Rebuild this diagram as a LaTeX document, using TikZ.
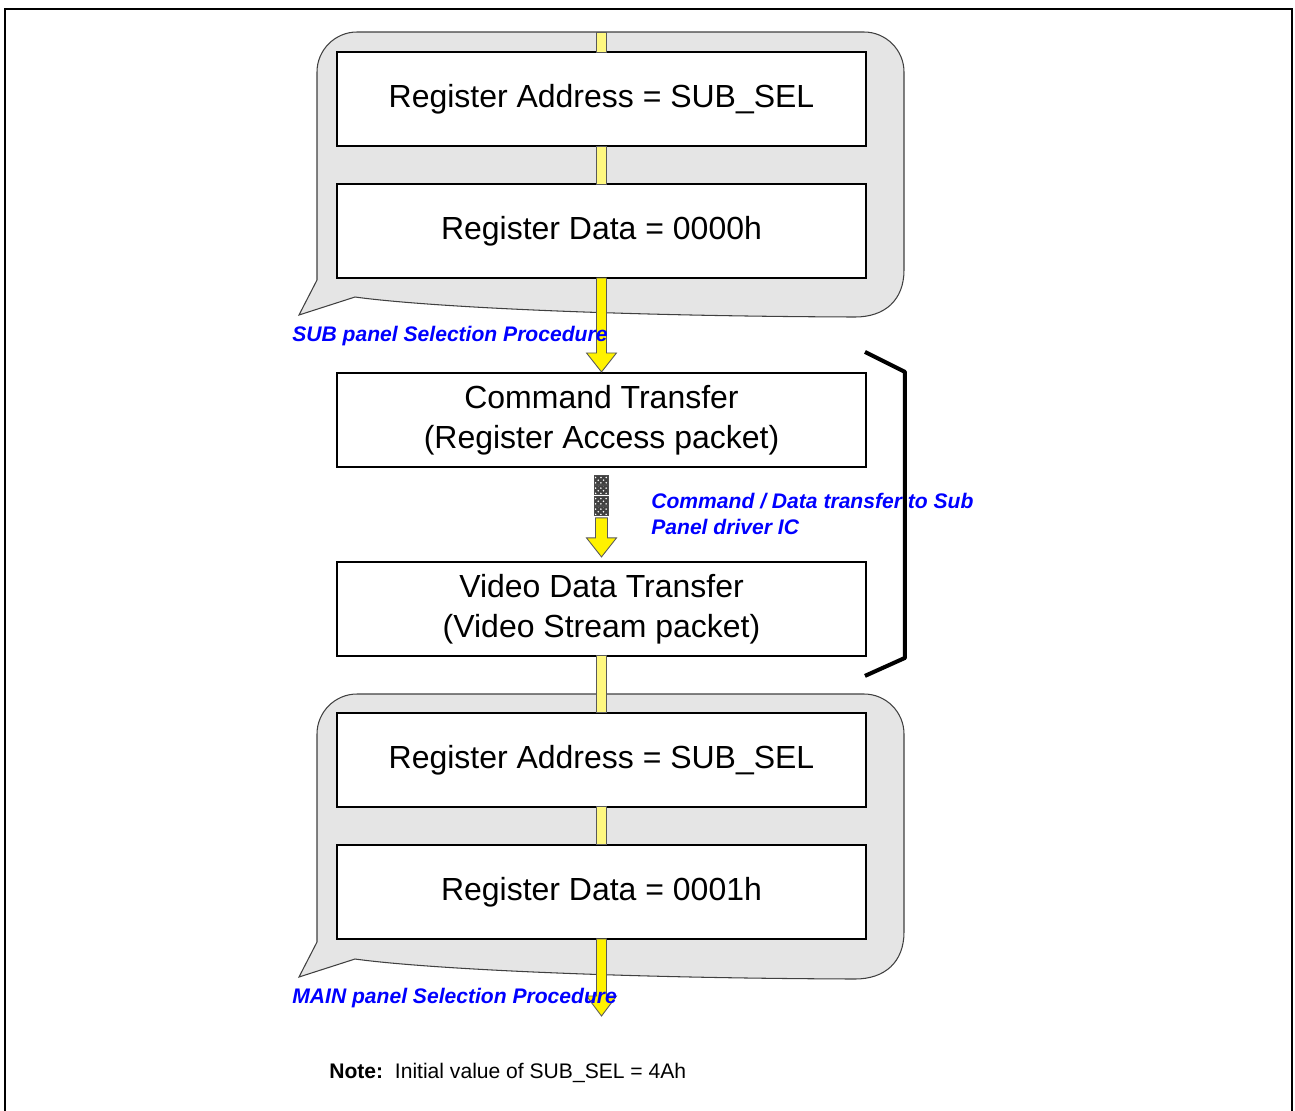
\documentclass[tikz,border=0pt]{standalone}
\usepackage{fontspec}
\setmainfont{Liberation Sans}
\usetikzlibrary{positioning, calc, patterns}

\begin{document}
\begin{tikzpicture}[x=0.02cm, y=-0.02cm,
    box/.style={draw, line width=1.1pt, fill=white, minimum width=10.58cm, minimum height=1.88cm,
                inner sep=0pt, outer sep=0pt, align=center, font=\fontsize{18.2}{22.7}\selectfont},
    callout/.style={draw=black!75, fill=black!10, line width=0.6pt},
    proclabel/.style={text=blue, font=\fontsize{12}{14.7}\selectfont\bfseries\itshape,
                      inner sep=0pt, anchor=west, align=left},
    ylink/.style={draw=black!65, fill=yellow!50, line width=0.5pt},
    yarr/.style={draw=black!65, fill=yellow, line width=0.5pt, line join=miter},
    bracket/.style={line width=2.3pt, line join=round}]
  \useasboundingbox (0,0) rectangle (1295,1110);
  \draw[line width=1.1pt] (5,1115) -- (5,9) -- (1292,9) -- (1292,1115);

  % the two selection callouts
  \foreach \oy in {0,662} {
    \draw[callout] (299,315+\oy) -- (317,280+\oy) -- (317,72+\oy)
      .. controls (317,50+\oy) and (335,32+\oy) .. (357,32+\oy) -- (864,32+\oy)
      .. controls (886,32+\oy) and (904,50+\oy) .. (904,72+\oy) -- (904,270+\oy)
      .. controls (904,300+\oy) and (885,317+\oy) .. (855,317+\oy)
      .. controls (600,316+\oy) and (420,306+\oy) .. (355,297+\oy) -- cycle;
  }
  \coordinate (subtop) at (601.5,32);
  \coordinate (maintop) at (601.5,694);
  \coordinate (mainend) at (601.5,1016);

  \node[box] (ra1) at (601.5,99) {Register Address = SUB\_SEL};
  \node[box, below=0.76cm of ra1] (rd1) {Register Data = 0000h};
  \node[box, below=1.9cm of rd1] (cmd) {Command Transfer\\(Register Access packet)};
  \node[box, below=1.9cm of cmd] (vid) {Video Data Transfer\\(Video Stream packet)};
  \node[box, below=1.14cm of vid] (ra2) {Register Address = SUB\_SEL};
  \node[box, below=0.76cm of ra2] (rd2) {Register Data = 0001h};

  % pale links inside the callouts
  \draw[ylink] ($(subtop)+(-5,0)$) rectangle ($(ra1.north)+(5,0)$);
  \draw[ylink] ($(ra1.south)+(-5,0)$) rectangle ($(rd1.north)+(5,0)$);
  \draw[ylink] ($(vid.south)+(-5,0)$) rectangle ($(ra2.north)+(5,0)$);
  \draw[ylink] ($(ra2.south)+(-5,0)$) rectangle ($(rd2.north)+(5,0)$);

  % block arrows
  \draw[yarr] ($(rd1.south)+(-5,0)$) -- ($(cmd.north)+(-5,-20)$) -- ($(cmd.north)+(-15,-20)$)
    -- ($(cmd.north)+(0,-1)$) -- ($(cmd.north)+(15,-20)$) -- ($(cmd.north)+(5,-20)$)
    -- ($(rd1.south)+(5,0)$) -- cycle;
  \draw[yarr] ($(rd2.south)+(-5,0)$) -- ($(mainend)+(-5,-20)$) -- ($(mainend)+(-15,-20)$)
    -- (mainend) -- ($(mainend)+(15,-20)$) -- ($(mainend)+(5,-20)$)
    -- ($(rd2.south)+(5,0)$) -- cycle;

  % dotted shaft and hollow arrow
  \foreach \k in {0,...,3}
    \draw[black!70, line width=0.4pt, preaction={fill=black!75},
          pattern=crosshatch dots, pattern color=white]
      ($(cmd.south)+(-7,{8+10.5*\k})$) rectangle ++(14,9);
  \draw[yarr] ($(vid.north)+(-6,-44)$) -- ($(vid.north)+(-6,-24)$) -- ($(vid.north)+(-15,-24)$)
    -- ($(vid.north)+(0,-5)$) -- ($(vid.north)+(15,-24)$) -- ($(vid.north)+(6,-24)$)
    -- ($(vid.north)+(6,-44)$) -- cycle;

  \draw[bracket] ($(cmd.north east)+(-1,-21)$) -- ($(cmd.north east)+(39,-1)$)
    -- ($(vid.south east)+(39,2)$) -- ($(vid.south east)+(-1,20)$);

  \node[proclabel] (sublbl) at (292,336) {SUB panel Selection Procedure};
  \node[proclabel] (cmdlbl) at (651,514) {Command / Data transfer to Sub\\Panel driver IC};
  \node[proclabel] (mainlbl) at (292,998) {MAIN panel Selection Procedure};
  \node[anchor=west, inner sep=0pt, font=\fontsize{12}{14}\selectfont] (note) at (329,1073)
    {\textbf{Note:}\ \ Initial value of SUB\_SEL = 4Ah};
\end{tikzpicture}
\end{document}
